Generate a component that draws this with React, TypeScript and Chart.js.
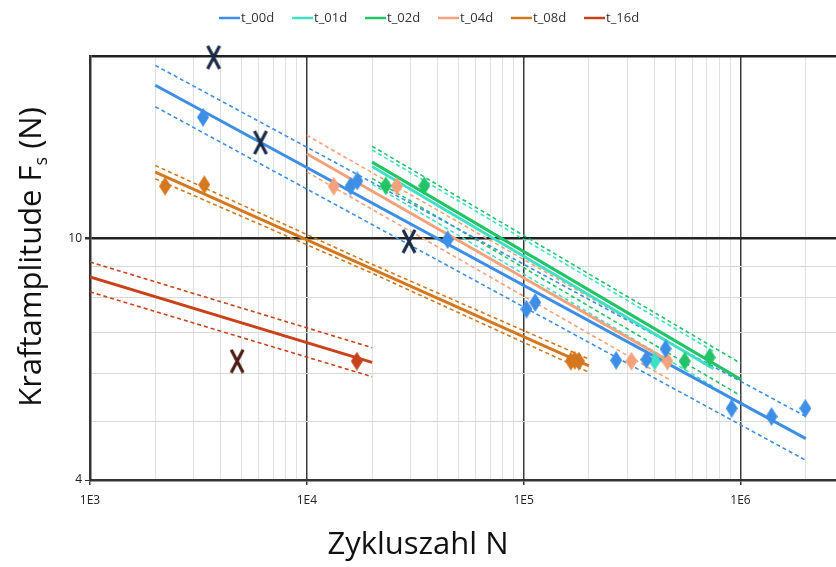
import { useEffect, useRef } from 'react';
import { Chart, registerables } from 'chart.js';

Chart.register(...registerables);

// ---------- data ----------
const seriesNames = ['t_00d', 't_01d', 't_02d', 't_04d', 't_08d', 't_16d'];
const seriesColors = ['#3d8fe6', '#3fe0c4', '#22c466', '#f5a27c', '#d4781f', '#c8431b'];

// regression lines (N, F) and scatter bands
const t00FitN = [2000, 2.0e6];
const t00FitF = [17.9, 4.68];
const t00UpF = [19.3, 5.09];
const t00LoF = [16.5, 4.31];

const t01FitN = [2.0e4, 7.5e5];
const t01FitF = [13.15, 6.1];
const t01UpF = [14.0, 6.52];
const t01LoF = [12.3, 5.7];

const t02FitN = [2.0e4, 1.0e6];
const t02FitF = [13.37, 5.86];
const t02UpF = [14.2, 6.23];
const t02LoF = [12.57, 5.51];

const t04FitN = [1.0e4, 4.8e5];
const t04FitF = [13.8, 6.25];
const t04UpF = [14.8, 6.7];
const t04LoF = [12.88, 5.83];

const t08FitN = [2000, 2.0e5];
const t08FitF = [12.87, 6.17];
const t08BandN = [2000, 2.0e4, 2.0e5];
const t08UpF = [13.2, 9.07, 6.33];
const t08LoF = [12.55, 8.77, 6.02];

const t16FitN = [1000, 2.0e4];
const t16FitF = [8.65, 6.25];
const t16UpF = [9.15, 6.61];
const t16LoF = [8.17, 5.92];

// test points
const t00N = [3320, 15900, 17100, 44600, 103000, 113000, 267000, 368000, 451000, 910000, 1390000, 1990000];
const t00F = [15.85, 12.2, 12.45, 9.96, 7.65, 7.85, 6.3, 6.32, 6.58, 5.25, 5.09, 5.25];
const t01N = [402000];
const t01F = [6.28];
const t02N = [23100, 34800, 553000, 720000];
const t02F = [12.22, 12.22, 6.28, 6.37];
const t04N = [13300, 26000, 314000, 460000];
const t04F = [12.2, 12.2, 6.28, 6.28];
const t08N = [2220, 3365, 165000, 172000, 180000];
const t08F = [12.2, 12.27, 6.28, 6.3, 6.28];
const t16N = [17000];
const t16F = [6.28];

// outliers / run-outs (X markers)
const x00N = [3715, 6110, 29600];
const x00F = [19.9, 14.4, 9.9];
const x16N = [4770];
const x16F = [6.28];

// axes
const xMin = 1000;
const xMax = 3.0e6;
const yMin = 4;
const yMax = 20;
const xTickValues = [
  1000, 2000, 3000, 4000, 5000, 6000, 7000, 8000, 9000,
  10000, 20000, 30000, 40000, 50000, 60000, 70000, 80000, 90000,
  100000, 200000, 300000, 400000, 500000, 600000, 700000, 800000, 900000,
  1000000, 2000000, 3000000,
];
const xMajorValues = [1000, 10000, 100000, 1000000];
const xMajorLabels = ['1E3', '1E4', '1E5', '1E6'];
const yTickValues = [4, 5, 6, 7, 8, 9, 10, 20];
const yLabelValues = [4, 10];
const yLabelTexts = ['4', '10'];

const xTitle = 'Zykluszahl N';
const yTitleMain = 'Kraftamplitude F';
const yTitleSub = 's';
const yTitleEnd = ' (N)';

// ---------- helpers ----------
const pts = (ns: number[], fs: number[]) => ns.map((n, i) => ({ x: n, y: fs[i] }));

function makeDiamond(color: string) {
  const c = document.createElement('canvas');
  const w = 12;
  const h = 19;
  c.width = w;
  c.height = h;
  const g = c.getContext('2d')!;
  g.fillStyle = color;
  g.beginPath();
  g.moveTo(w / 2, 0);
  g.lineTo(w, h / 2);
  g.lineTo(w / 2, h);
  g.lineTo(0, h / 2);
  g.closePath();
  g.fill();
  return c;
}

function makeCross(color: string) {
  const c = document.createElement('canvas');
  const w = 16;
  const h = 25;
  c.width = w;
  c.height = h;
  const g = c.getContext('2d')!;
  g.strokeStyle = color;
  g.lineWidth = 3.2;
  g.lineCap = 'butt';
  g.beginPath();
  g.moveTo(2, 1);
  g.lineTo(w - 2, h - 1);
  g.moveTo(w - 2, 1);
  g.lineTo(2, h - 1);
  g.stroke();
  return c;
}

export default function App() {
  const ref = useRef<HTMLCanvasElement | null>(null);

  useEffect(() => {
    const canvas = ref.current;
    if (!canvas) return;

    const fits = [
      [t00FitN, t00FitF, t00FitN, t00UpF, t00LoF],
      [t01FitN, t01FitF, t01FitN, t01UpF, t01LoF],
      [t02FitN, t02FitF, t02FitN, t02UpF, t02LoF],
      [t04FitN, t04FitF, t04FitN, t04UpF, t04LoF],
      [t08FitN, t08FitF, t08BandN, t08UpF, t08LoF],
      [t16FitN, t16FitF, t16FitN, t16UpF, t16LoF],
    ];
    const points = [
      [t00N, t00F],
      [t01N, t01F],
      [t02N, t02F],
      [t04N, t04F],
      [t08N, t08F],
      [t16N, t16F],
    ];

    const datasets: any[] = [];
    datasets.push({
      label: 'x00',
      data: pts(x00N, x00F),
      pointStyle: makeCross('#1b2b47'),
      showLine: false,
      clip: false,
      order: 0,
    });
    datasets.push({
      label: 'x16',
      data: pts(x16N, x16F),
      pointStyle: makeCross('#4a1c12'),
      showLine: false,
      clip: false,
      order: 0,
    });
    points.forEach(([ns, fs], i) => {
      datasets.push({
        label: seriesNames[i] + ' pts',
        data: pts(ns as number[], fs as number[]),
        pointStyle: makeDiamond(seriesColors[i]),
        showLine: false,
        clip: false,
        order: 1,
      });
    });
    fits.forEach(([fn, ff, bn, up, lo], i) => {
      datasets.push({
        label: seriesNames[i],
        data: pts(fn, ff),
        showLine: true,
        borderColor: seriesColors[i],
        borderWidth: 3,
        pointRadius: 0,
        order: 2,
      });
      datasets.push({
        label: seriesNames[i] + ' up',
        data: pts(bn, up),
        showLine: true,
        borderColor: seriesColors[i],
        borderWidth: 1.6,
        borderDash: [4, 3],
        pointRadius: 0,
        order: 3,
      });
      datasets.push({
        label: seriesNames[i] + ' lo',
        data: pts(bn, lo),
        showLine: true,
        borderColor: seriesColors[i],
        borderWidth: 1.6,
        borderDash: [4, 3],
        pointRadius: 0,
        order: 3,
      });
    });

    const legendPlugin = {
      id: 'customLegend',
      afterDraw(chart: any) {
        const g = chart.ctx as CanvasRenderingContext2D;
        g.save();
        g.font = '13px "Open Sans", sans-serif';
        g.textBaseline = 'middle';
        g.fillStyle = '#333';
        const y = 18;
        let x = 219;
        seriesNames.forEach((name, i) => {
          g.strokeStyle = seriesColors[i];
          g.lineWidth = 2.5;
          g.beginPath();
          g.moveTo(x, y);
          g.lineTo(x + 21, y);
          g.stroke();
          g.fillText(name, x + 22, y);
          x += 73;
        });
        g.restore();
      },
    };

    const titlePlugin = {
      id: 'axisTitles',
      afterDraw(chart: any) {
        const g = chart.ctx as CanvasRenderingContext2D;
        g.save();
        g.fillStyle = '#111';
        g.font = '31px "Open Sans", sans-serif';
        g.textAlign = 'center';
        g.textBaseline = 'middle';
        g.fillText(xTitle, 418, 545);

        g.translate(31, 257);
        g.rotate(-Math.PI / 2);
        const mainFont = '31px "Open Sans", sans-serif';
        const subFont = '18px "Open Sans", sans-serif';
        g.font = mainFont;
        const w1 = g.measureText(yTitleMain).width;
        const w3 = g.measureText(yTitleEnd).width;
        g.font = subFont;
        const w2 = g.measureText(yTitleSub).width;
        const total = w1 + w2 + w3;
        let x = -total / 2;
        g.textAlign = 'left';
        g.textBaseline = 'alphabetic';
        g.font = mainFont;
        g.fillText(yTitleMain, x, 10);
        x += w1;
        g.font = subFont;
        g.fillText(yTitleSub, x, 16);
        x += w2;
        g.font = mainFont;
        g.fillText(yTitleEnd, x, 10);
        g.restore();
      },
    };

    const isMajorX = (v: number) => xMajorValues.indexOf(v) >= 0;

    const chart = new Chart(canvas, {
      type: 'scatter',
      data: { datasets },
      plugins: [legendPlugin, titlePlugin],
      options: {
        animation: false,
        responsive: false,
        maintainAspectRatio: false,
        layout: { padding: { top: 56, left: 0, right: 0, bottom: 0 } },
        plugins: {
          legend: { display: false },
          tooltip: { enabled: false },
        },
        elements: { line: { tension: 0 } },
        scales: {
          x: {
            type: 'logarithmic',
            min: xMin,
            max: xMax,
            afterBuildTicks: (scale: any) => {
              scale.ticks = xTickValues.map((v) => ({ value: v, major: isMajorX(v) }));
            },
            afterFit: (scale: any) => {
              scale.height = 87;
            },
            ticks: {
              autoSkip: false,
              maxRotation: 0,
              padding: 8,
              color: '#222',
              font: { family: '"Open Sans", sans-serif', size: 12 },
              callback: (v: any) => {
                const idx = xMajorValues.indexOf(Number(v));
                return idx >= 0 ? xMajorLabels[idx] : '';
              },
            },
            grid: {
              color: (ctx: any) => (isMajorX(ctx.tick?.value) ? '#3a3a3a' : '#e0e0e0'),
              lineWidth: (ctx: any) => (isMajorX(ctx.tick?.value) ? 1.5 : 1),
              tickLength: 5,
              tickColor: (ctx: any) => (isMajorX(ctx.tick?.value) ? '#333' : 'rgba(0,0,0,0)'),
            },
            border: { display: true, color: '#333', width: 2.5 },
          },
          y: {
            type: 'logarithmic',
            min: yMin,
            max: yMax,
            afterBuildTicks: (scale: any) => {
              scale.ticks = yTickValues.map((v) => ({ value: v }));
            },
            afterFit: (scale: any) => {
              scale.width = 90;
            },
            ticks: {
              autoSkip: false,
              padding: 3,
              color: '#222',
              font: { family: '"Open Sans", sans-serif', size: 12 },
              callback: (v: any) => {
                const idx = yLabelValues.indexOf(Number(v));
                return idx >= 0 ? yLabelTexts[idx] : '';
              },
            },
            grid: {
              color: (ctx: any) => {
                const v = ctx.tick?.value;
                return v === 10 || v === 20 ? '#222' : '#d8d8d8';
              },
              lineWidth: (ctx: any) => {
                const v = ctx.tick?.value;
                return v === 10 || v === 20 ? 2.5 : 1;
              },
              tickLength: 5,
              tickColor: (ctx: any) =>
                yLabelValues.indexOf(ctx.tick?.value) >= 0 ? '#333' : 'rgba(0,0,0,0)',
            },
            border: { display: true, color: '#333', width: 2.5 },
          },
        },
      },
    });

    return () => chart.destroy();
  }, []);

  return (
    <div
      style={{
        position: 'fixed',
        left: 0,
        top: 0,
        width: 836,
        height: 567,
        overflow: 'hidden',
        background: '#fff',
      }}
    >
      <canvas ref={ref} width={852} height={567} style={{ width: 852, height: 567, display: 'block' }} />
    </div>
  );
}
